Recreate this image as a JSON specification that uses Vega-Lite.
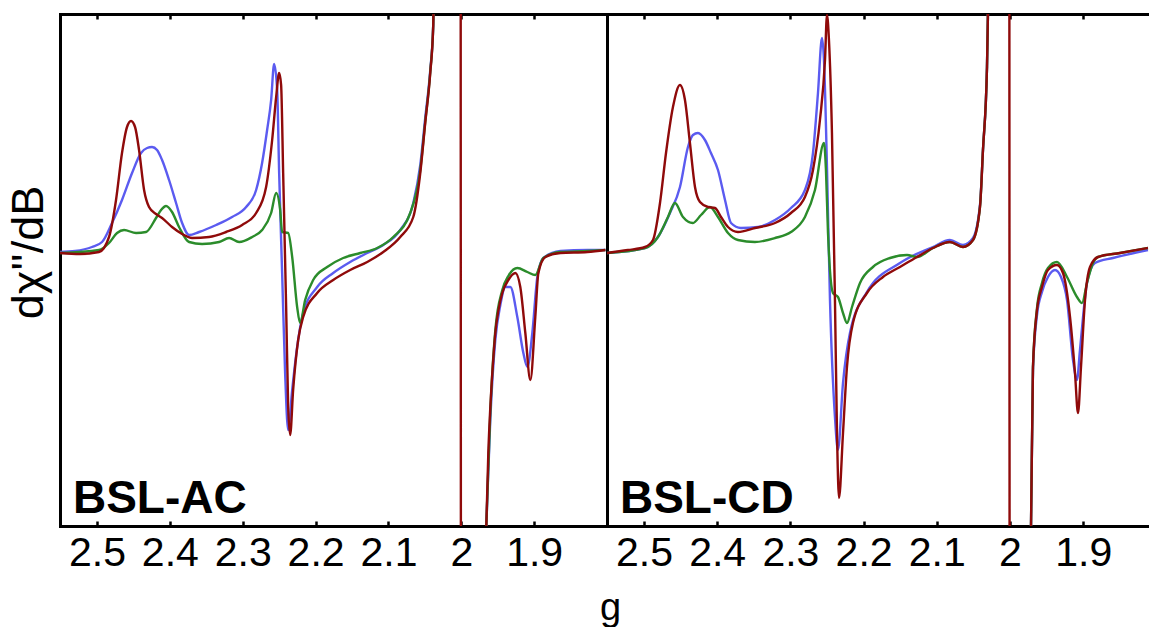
{
  "$schema": "https://vega.github.io/schema/vega-lite/v6.json",
  "background": "white",
  "padding": {"left": 6, "top": 12, "right": 0, "bottom": 0},
  "bounds": "flush",
  "spacing": 0,
  "config": {
    "view": {"stroke": null},
    "font": "Liberation Sans",
    "axis": {
      "domainColor": "black", "domainWidth": 3, "domainCap": "square",
      "tickColor": "black", "tickWidth": 2.5, "tickSize": -5,
      "labelFont": "Liberation Sans", "labelFontSize": 41, "labelColor": "black",
      "grid": false, "titleFont": "Liberation Sans", "titleFontWeight": "normal", "titleColor": "black"
    }
  },
  "datasets": {
    "curves": [
      {"panel":"AC","series":"blue","g":2.5508,"v":0.01},{"panel":"AC","series":"blue","g":2.5300,"v":0.02},{"panel":"AC","series":"blue","g":2.5069,"v":0.06},{"panel":"AC","series":"blue","g":2.4931,"v":0.11},{"panel":"AC","series":"blue","g":2.4794,"v":0.30},{"panel":"AC","series":"blue","g":2.4657,"v":0.53},{"panel":"AC","series":"blue","g":2.4519,"v":0.80},{"panel":"AC","series":"blue","g":2.4396,"v":1.00},{"panel":"AC","series":"blue","g":2.4313,"v":1.05},{"panel":"AC","series":"blue","g":2.4245,"v":1.06},{"panel":"AC","series":"blue","g":2.4176,"v":1.03},{"panel":"AC","series":"blue","g":2.4107,"v":0.93},{"panel":"AC","series":"blue","g":2.4011,"v":0.73},{"panel":"AC","series":"blue","g":2.3915,"v":0.50},{"panel":"AC","series":"blue","g":2.3832,"v":0.30},{"panel":"AC","series":"blue","g":2.3736,"v":0.18},{"panel":"AC","series":"blue","g":2.3599,"v":0.21},{"panel":"AC","series":"blue","g":2.3365,"v":0.28},{"panel":"AC","series":"blue","g":2.3146,"v":0.36},{"panel":"AC","series":"blue","g":2.2953,"v":0.46},{"panel":"AC","series":"blue","g":2.2816,"v":0.63},{"panel":"AC","series":"blue","g":2.2734,"v":0.90},{"panel":"AC","series":"blue","g":2.2665,"v":1.23},{"panel":"AC","series":"blue","g":2.2610,"v":1.53},{"panel":"AC","series":"blue","g":2.2569,"v":1.89},{"panel":"AC","series":"blue","g":2.2527,"v":1.63},{"panel":"AC","series":"blue","g":2.2500,"v":0.80},{"panel":"AC","series":"blue","g":2.2459,"v":-0.20},{"panel":"AC","series":"blue","g":2.2418,"v":-1.20},{"panel":"AC","series":"blue","g":2.2376,"v":-1.77},{"panel":"AC","series":"blue","g":2.2321,"v":-1.37},{"panel":"AC","series":"blue","g":2.2253,"v":-0.94},{"panel":"AC","series":"blue","g":2.2170,"v":-0.60},{"panel":"AC","series":"blue","g":2.1978,"v":-0.34},{"panel":"AC","series":"blue","g":2.1758,"v":-0.20},{"panel":"AC","series":"blue","g":2.1525,"v":-0.09},{"panel":"AC","series":"blue","g":2.1291,"v":0.00},{"panel":"AC","series":"blue","g":2.1071,"v":0.08},{"panel":"AC","series":"blue","g":2.0838,"v":0.23},{"panel":"AC","series":"blue","g":2.0659,"v":0.50},{"panel":"AC","series":"blue","g":2.0563,"v":0.88},{"panel":"AC","series":"blue","g":2.0495,"v":1.35},{"panel":"AC","series":"blue","g":2.0426,"v":1.83},{"panel":"AC","series":"blue","g":2.0385,"v":2.28},{"panel":"AC","series":"blue","g":2.0343,"v":4.0},{"panel":"AC","series":"blue","g":2.0200,"v":null},{"panel":"AC","series":"blue","g":1.9698,"v":-3.47},{"panel":"AC","series":"blue","g":1.9657,"v":-2.74},{"panel":"AC","series":"blue","g":1.9602,"v":-1.67},{"panel":"AC","series":"blue","g":1.9533,"v":-0.87},{"panel":"AC","series":"blue","g":1.9464,"v":-0.52},{"panel":"AC","series":"blue","g":1.9396,"v":-0.34},{"panel":"AC","series":"blue","g":1.9327,"v":-0.34},{"panel":"AC","series":"blue","g":1.9231,"v":-0.64},{"panel":"AC","series":"blue","g":1.9148,"v":-1.00},{"panel":"AC","series":"blue","g":1.9093,"v":-1.14},{"panel":"AC","series":"blue","g":1.9025,"v":-0.80},{"panel":"AC","series":"blue","g":1.8956,"v":-0.24},{"panel":"AC","series":"blue","g":1.8874,"v":-0.05},{"panel":"AC","series":"blue","g":1.8640,"v":0.02},{"panel":"AC","series":"blue","g":1.8269,"v":0.03},{"panel":"AC","series":"blue","g":1.8022,"v":0.03},
      {"panel":"AC","series":"green","g":2.5508,"v":0.00},{"panel":"AC","series":"green","g":2.4973,"v":0.03},{"panel":"AC","series":"green","g":2.4835,"v":0.10},{"panel":"AC","series":"green","g":2.4725,"v":0.20},{"panel":"AC","series":"green","g":2.4629,"v":0.23},{"panel":"AC","series":"green","g":2.4464,"v":0.20},{"panel":"AC","series":"green","g":2.4327,"v":0.21},{"panel":"AC","series":"green","g":2.4190,"v":0.35},{"panel":"AC","series":"green","g":2.4121,"v":0.43},{"panel":"AC","series":"green","g":2.4052,"v":0.47},{"panel":"AC","series":"green","g":2.3970,"v":0.41},{"panel":"AC","series":"green","g":2.3874,"v":0.26},{"panel":"AC","series":"green","g":2.3736,"v":0.11},{"panel":"AC","series":"green","g":2.3558,"v":0.09},{"panel":"AC","series":"green","g":2.3324,"v":0.11},{"panel":"AC","series":"green","g":2.3187,"v":0.15},{"panel":"AC","series":"green","g":2.3049,"v":0.11},{"panel":"AC","series":"green","g":2.2871,"v":0.16},{"panel":"AC","series":"green","g":2.2734,"v":0.23},{"panel":"AC","series":"green","g":2.2610,"v":0.40},{"panel":"AC","series":"green","g":2.2541,"v":0.60},{"panel":"AC","series":"green","g":2.2486,"v":0.43},{"panel":"AC","series":"green","g":2.2459,"v":0.21},{"panel":"AC","series":"green","g":2.2376,"v":0.20},{"panel":"AC","series":"green","g":2.2321,"v":-0.04},{"panel":"AC","series":"green","g":2.2253,"v":-0.54},{"panel":"AC","series":"green","g":2.2212,"v":-0.70},{"panel":"AC","series":"green","g":2.2143,"v":-0.47},{"panel":"AC","series":"green","g":2.2033,"v":-0.27},{"panel":"AC","series":"green","g":2.1841,"v":-0.14},{"panel":"AC","series":"green","g":2.1621,"v":-0.05},{"panel":"AC","series":"green","g":2.1387,"v":0.00},{"panel":"AC","series":"green","g":2.1154,"v":0.05},{"panel":"AC","series":"green","g":2.0934,"v":0.16},{"panel":"AC","series":"green","g":2.0701,"v":0.40},{"panel":"AC","series":"green","g":2.0563,"v":0.83},{"panel":"AC","series":"green","g":2.0495,"v":1.31},{"panel":"AC","series":"green","g":2.0426,"v":1.81},{"panel":"AC","series":"green","g":2.0385,"v":2.28},{"panel":"AC","series":"green","g":2.0343,"v":4.0},{"panel":"AC","series":"green","g":2.0200,"v":null},{"panel":"AC","series":"green","g":1.9698,"v":-3.47},{"panel":"AC","series":"green","g":1.9657,"v":-2.74},{"panel":"AC","series":"green","g":1.9602,"v":-1.60},{"panel":"AC","series":"green","g":1.9533,"v":-0.77},{"panel":"AC","series":"green","g":1.9437,"v":-0.37},{"panel":"AC","series":"green","g":1.9354,"v":-0.23},{"panel":"AC","series":"green","g":1.9231,"v":-0.15},{"panel":"AC","series":"green","g":1.9093,"v":-0.19},{"panel":"AC","series":"green","g":1.8984,"v":-0.22},{"panel":"AC","series":"green","g":1.8874,"v":-0.05},{"panel":"AC","series":"green","g":1.8640,"v":0.01},{"panel":"AC","series":"green","g":1.8269,"v":0.02},{"panel":"AC","series":"green","g":1.8022,"v":0.03},
      {"panel":"AC","series":"red","g":2.5508,"v":0.00},{"panel":"AC","series":"red","g":2.5234,"v":-0.01},{"panel":"AC","series":"red","g":2.4973,"v":0.01},{"panel":"AC","series":"red","g":2.4835,"v":0.16},{"panel":"AC","series":"red","g":2.4739,"v":0.53},{"panel":"AC","series":"red","g":2.4657,"v":1.00},{"panel":"AC","series":"red","g":2.4588,"v":1.26},{"panel":"AC","series":"red","g":2.4533,"v":1.32},{"panel":"AC","series":"red","g":2.4478,"v":1.26},{"panel":"AC","series":"red","g":2.4423,"v":1.03},{"panel":"AC","series":"red","g":2.4354,"v":0.63},{"panel":"AC","series":"red","g":2.4286,"v":0.46},{"panel":"AC","series":"red","g":2.4190,"v":0.39},{"panel":"AC","series":"red","g":2.4107,"v":0.35},{"panel":"AC","series":"red","g":2.3970,"v":0.26},{"panel":"AC","series":"red","g":2.3832,"v":0.19},{"panel":"AC","series":"red","g":2.3695,"v":0.15},{"panel":"AC","series":"red","g":2.3462,"v":0.16},{"panel":"AC","series":"red","g":2.3228,"v":0.21},{"panel":"AC","series":"red","g":2.3008,"v":0.28},{"panel":"AC","series":"red","g":2.2816,"v":0.40},{"panel":"AC","series":"red","g":2.2679,"v":0.66},{"panel":"AC","series":"red","g":2.2596,"v":1.13},{"panel":"AC","series":"red","g":2.2541,"v":1.56},{"panel":"AC","series":"red","g":2.2500,"v":1.80},{"panel":"AC","series":"red","g":2.2473,"v":1.68},{"panel":"AC","series":"red","g":2.2445,"v":0.80},{"panel":"AC","series":"red","g":2.2404,"v":-0.54},{"panel":"AC","series":"red","g":2.2376,"v":-1.54},{"panel":"AC","series":"red","g":2.2349,"v":-1.82},{"panel":"AC","series":"red","g":2.2308,"v":-1.37},{"panel":"AC","series":"red","g":2.2239,"v":-0.87},{"panel":"AC","series":"red","g":2.2170,"v":-0.64},{"panel":"AC","series":"red","g":2.1978,"v":-0.40},{"panel":"AC","series":"red","g":2.1758,"v":-0.27},{"panel":"AC","series":"red","g":2.1525,"v":-0.17},{"panel":"AC","series":"red","g":2.1291,"v":-0.09},{"panel":"AC","series":"red","g":2.1071,"v":0.01},{"panel":"AC","series":"red","g":2.0838,"v":0.16},{"panel":"AC","series":"red","g":2.0659,"v":0.36},{"panel":"AC","series":"red","g":2.0563,"v":0.80},{"panel":"AC","series":"red","g":2.0495,"v":1.30},{"panel":"AC","series":"red","g":2.0426,"v":1.80},{"panel":"AC","series":"red","g":2.0385,"v":2.28},{"panel":"AC","series":"red","g":2.0343,"v":4.0},{"panel":"AC","series":"red","g":2.0014,"v":10},{"panel":"AC","series":"red","g":2.0000,"v":-10},{"panel":"AC","series":"red","g":1.9698,"v":-3.47},{"panel":"AC","series":"red","g":1.9657,"v":-2.74},{"panel":"AC","series":"red","g":1.9629,"v":-2.0},{"panel":"AC","series":"red","g":1.9602,"v":-1.55},{"panel":"AC","series":"red","g":1.9560,"v":-1.05},{"panel":"AC","series":"red","g":1.9533,"v":-0.80},{"panel":"AC","series":"red","g":1.9492,"v":-0.58},{"panel":"AC","series":"red","g":1.9437,"v":-0.40},{"panel":"AC","series":"red","g":1.9354,"v":-0.27},{"panel":"AC","series":"red","g":1.9258,"v":-0.20},{"panel":"AC","series":"red","g":1.9190,"v":-0.34},{"panel":"AC","series":"red","g":1.9121,"v":-0.80},{"panel":"AC","series":"red","g":1.9052,"v":-1.27},{"panel":"AC","series":"red","g":1.8984,"v":-0.64},{"panel":"AC","series":"red","g":1.8942,"v":-0.20},{"panel":"AC","series":"red","g":1.8846,"v":-0.04},{"panel":"AC","series":"red","g":1.8640,"v":0.00},{"panel":"AC","series":"red","g":1.8269,"v":0.01},{"panel":"AC","series":"red","g":1.8022,"v":0.03},
      {"panel":"CD","series":"blue","g":2.5505,"v":0.00},{"panel":"CD","series":"blue","g":2.4986,"v":0.05},{"panel":"CD","series":"blue","g":2.4809,"v":0.16},{"panel":"CD","series":"blue","g":2.4645,"v":0.40},{"panel":"CD","series":"blue","g":2.4508,"v":0.66},{"panel":"CD","series":"blue","g":2.4399,"v":1.06},{"panel":"CD","series":"blue","g":2.4331,"v":1.18},{"panel":"CD","series":"blue","g":2.4262,"v":1.20},{"panel":"CD","series":"blue","g":2.4167,"v":1.13},{"panel":"CD","series":"blue","g":2.4085,"v":1.00},{"panel":"CD","series":"blue","g":2.3989,"v":0.83},{"panel":"CD","series":"blue","g":2.3893,"v":0.53},{"panel":"CD","series":"blue","g":2.3811,"v":0.30},{"panel":"CD","series":"blue","g":2.3675,"v":0.25},{"panel":"CD","series":"blue","g":2.3443,"v":0.26},{"panel":"CD","series":"blue","g":2.3210,"v":0.33},{"panel":"CD","series":"blue","g":2.2992,"v":0.45},{"panel":"CD","series":"blue","g":2.2801,"v":0.63},{"panel":"CD","series":"blue","g":2.2691,"v":1.00},{"panel":"CD","series":"blue","g":2.2623,"v":1.60},{"panel":"CD","series":"blue","g":2.2568,"v":2.15},{"panel":"CD","series":"blue","g":2.2541,"v":1.93},{"panel":"CD","series":"blue","g":2.2500,"v":0.86},{"panel":"CD","series":"blue","g":2.2459,"v":-0.47},{"panel":"CD","series":"blue","g":2.2391,"v":-1.64},{"panel":"CD","series":"blue","g":2.2350,"v":-1.97},{"panel":"CD","series":"blue","g":2.2281,"v":-1.30},{"panel":"CD","series":"blue","g":2.2186,"v":-0.80},{"panel":"CD","series":"blue","g":2.1954,"v":-0.39},{"panel":"CD","series":"blue","g":2.1503,"v":-0.10},{"panel":"CD","series":"blue","g":2.1052,"v":0.06},{"panel":"CD","series":"blue","g":2.0820,"v":0.13},{"panel":"CD","series":"blue","g":2.0642,"v":0.08},{"panel":"CD","series":"blue","g":2.0505,"v":0.15},{"panel":"CD","series":"blue","g":2.0410,"v":0.48},{"panel":"CD","series":"blue","g":2.0369,"v":1.03},{"panel":"CD","series":"blue","g":2.0314,"v":1.86},{"panel":"CD","series":"blue","g":2.0301,"v":2.40},{"panel":"CD","series":"blue","g":2.0273,"v":4.0},{"panel":"CD","series":"blue","g":2.0150,"v":null},{"panel":"CD","series":"blue","g":1.9754,"v":-3.47},{"panel":"CD","series":"blue","g":1.9713,"v":-2.74},{"panel":"CD","series":"blue","g":1.9686,"v":-1.17},{"panel":"CD","series":"blue","g":1.9631,"v":-0.62},{"panel":"CD","series":"blue","g":1.9563,"v":-0.39},{"panel":"CD","series":"blue","g":1.9481,"v":-0.24},{"panel":"CD","series":"blue","g":1.9385,"v":-0.17},{"panel":"CD","series":"blue","g":1.9303,"v":-0.24},{"panel":"CD","series":"blue","g":1.9221,"v":-0.47},{"panel":"CD","series":"blue","g":1.9139,"v":-1.07},{"panel":"CD","series":"blue","g":1.9085,"v":-1.27},{"panel":"CD","series":"blue","g":1.9044,"v":-0.97},{"panel":"CD","series":"blue","g":1.8948,"v":-0.30},{"panel":"CD","series":"blue","g":1.8839,"v":-0.10},{"panel":"CD","series":"blue","g":1.8593,"v":-0.05},{"panel":"CD","series":"blue","g":1.8115,"v":0.03},
      {"panel":"CD","series":"green","g":2.5505,"v":0.00},{"panel":"CD","series":"green","g":2.4986,"v":0.05},{"panel":"CD","series":"green","g":2.4809,"v":0.16},{"panel":"CD","series":"green","g":2.4672,"v":0.36},{"panel":"CD","series":"green","g":2.4577,"v":0.50},{"panel":"CD","series":"green","g":2.4467,"v":0.36},{"panel":"CD","series":"green","g":2.4331,"v":0.30},{"panel":"CD","series":"green","g":2.4221,"v":0.38},{"panel":"CD","series":"green","g":2.4098,"v":0.46},{"panel":"CD","series":"green","g":2.3989,"v":0.36},{"panel":"CD","series":"green","g":2.3852,"v":0.20},{"panel":"CD","series":"green","g":2.3716,"v":0.13},{"panel":"CD","series":"green","g":2.3484,"v":0.11},{"panel":"CD","series":"green","g":2.3210,"v":0.15},{"panel":"CD","series":"green","g":2.2992,"v":0.21},{"panel":"CD","series":"green","g":2.2801,"v":0.36},{"panel":"CD","series":"green","g":2.2664,"v":0.63},{"panel":"CD","series":"green","g":2.2541,"v":1.10},{"panel":"CD","series":"green","g":2.2514,"v":0.83},{"panel":"CD","series":"green","g":2.2486,"v":0.20},{"panel":"CD","series":"green","g":2.2418,"v":-0.40},{"panel":"CD","series":"green","g":2.2350,"v":-0.44},{"panel":"CD","series":"green","g":2.2281,"v":-0.60},{"panel":"CD","series":"green","g":2.2227,"v":-0.70},{"panel":"CD","series":"green","g":2.2158,"v":-0.54},{"panel":"CD","series":"green","g":2.2049,"v":-0.30},{"panel":"CD","series":"green","g":2.1872,"v":-0.14},{"panel":"CD","series":"green","g":2.1639,"v":-0.05},{"panel":"CD","series":"green","g":2.1407,"v":-0.02},{"panel":"CD","series":"green","g":2.1270,"v":-0.04},{"panel":"CD","series":"green","g":2.1052,"v":0.05},{"panel":"CD","series":"green","g":2.0820,"v":0.11},{"panel":"CD","series":"green","g":2.0642,"v":0.06},{"panel":"CD","series":"green","g":2.0505,"v":0.13},{"panel":"CD","series":"green","g":2.0410,"v":0.46},{"panel":"CD","series":"green","g":2.0369,"v":1.03},{"panel":"CD","series":"green","g":2.0314,"v":1.86},{"panel":"CD","series":"green","g":2.0301,"v":2.40},{"panel":"CD","series":"green","g":2.0273,"v":4.0},{"panel":"CD","series":"green","g":2.0150,"v":null},{"panel":"CD","series":"green","g":1.9754,"v":-3.47},{"panel":"CD","series":"green","g":1.9713,"v":-2.74},{"panel":"CD","series":"green","g":1.9686,"v":-1.14},{"panel":"CD","series":"green","g":1.9631,"v":-0.55},{"panel":"CD","series":"green","g":1.9563,"v":-0.30},{"panel":"CD","series":"green","g":1.9481,"v":-0.15},{"panel":"CD","series":"green","g":1.9358,"v":-0.09},{"panel":"CD","series":"green","g":1.9221,"v":-0.24},{"panel":"CD","series":"green","g":1.9085,"v":-0.44},{"panel":"CD","series":"green","g":1.9016,"v":-0.50},{"panel":"CD","series":"green","g":1.8948,"v":-0.30},{"panel":"CD","series":"green","g":1.8866,"v":-0.10},{"panel":"CD","series":"green","g":1.8798,"v":-0.04},{"panel":"CD","series":"green","g":1.8497,"v":0.00},{"panel":"CD","series":"green","g":1.8115,"v":0.05},
      {"panel":"CD","series":"red","g":2.5505,"v":0.00},{"panel":"CD","series":"red","g":2.5219,"v":0.03},{"panel":"CD","series":"red","g":2.4986,"v":0.06},{"panel":"CD","series":"red","g":2.4877,"v":0.13},{"panel":"CD","series":"red","g":2.4781,"v":0.50},{"panel":"CD","series":"red","g":2.4699,"v":1.00},{"panel":"CD","series":"red","g":2.4604,"v":1.46},{"panel":"CD","series":"red","g":2.4508,"v":1.68},{"panel":"CD","series":"red","g":2.4440,"v":1.53},{"panel":"CD","series":"red","g":2.4372,"v":1.10},{"panel":"CD","series":"red","g":2.4303,"v":0.66},{"panel":"CD","series":"red","g":2.4235,"v":0.51},{"panel":"CD","series":"red","g":2.4126,"v":0.46},{"panel":"CD","series":"red","g":2.4030,"v":0.45},{"panel":"CD","series":"red","g":2.3948,"v":0.36},{"panel":"CD","series":"red","g":2.3852,"v":0.26},{"panel":"CD","series":"red","g":2.3716,"v":0.21},{"panel":"CD","series":"red","g":2.3484,"v":0.25},{"panel":"CD","series":"red","g":2.3210,"v":0.30},{"panel":"CD","series":"red","g":2.2992,"v":0.40},{"panel":"CD","series":"red","g":2.2801,"v":0.56},{"panel":"CD","series":"red","g":2.2691,"v":0.83},{"panel":"CD","series":"red","g":2.2596,"v":1.33},{"panel":"CD","series":"red","g":2.2527,"v":1.93},{"panel":"CD","series":"red","g":2.2500,"v":2.38},{"panel":"CD","series":"red","g":2.2473,"v":2.13},{"panel":"CD","series":"red","g":2.2432,"v":1.20},{"panel":"CD","series":"red","g":2.2391,"v":-0.47},{"panel":"CD","series":"red","g":2.2363,"v":-1.80},{"panel":"CD","series":"red","g":2.2336,"v":-2.45},{"panel":"CD","series":"red","g":2.2281,"v":-1.80},{"panel":"CD","series":"red","g":2.2227,"v":-1.14},{"panel":"CD","series":"red","g":2.2145,"v":-0.70},{"panel":"CD","series":"red","g":2.1954,"v":-0.40},{"panel":"CD","series":"red","g":2.1735,"v":-0.24},{"panel":"CD","series":"red","g":2.1503,"v":-0.14},{"panel":"CD","series":"red","g":2.1270,"v":-0.04},{"panel":"CD","series":"red","g":2.1052,"v":0.05},{"panel":"CD","series":"red","g":2.0820,"v":0.11},{"panel":"CD","series":"red","g":2.0642,"v":0.06},{"panel":"CD","series":"red","g":2.0505,"v":0.13},{"panel":"CD","series":"red","g":2.0410,"v":0.46},{"panel":"CD","series":"red","g":2.0369,"v":1.03},{"panel":"CD","series":"red","g":2.0314,"v":1.86},{"panel":"CD","series":"red","g":2.0301,"v":2.40},{"panel":"CD","series":"red","g":2.0273,"v":4.0},{"panel":"CD","series":"red","g":2.0014,"v":10},{"panel":"CD","series":"red","g":2.0000,"v":-10},{"panel":"CD","series":"red","g":1.9754,"v":-3.47},{"panel":"CD","series":"red","g":1.9713,"v":-2.74},{"panel":"CD","series":"red","g":1.9686,"v":-1.14},{"panel":"CD","series":"red","g":1.9631,"v":-0.57},{"panel":"CD","series":"red","g":1.9563,"v":-0.34},{"panel":"CD","series":"red","g":1.9481,"v":-0.17},{"panel":"CD","series":"red","g":1.9358,"v":-0.12},{"panel":"CD","series":"red","g":1.9276,"v":-0.20},{"panel":"CD","series":"red","g":1.9180,"v":-0.64},{"panel":"CD","series":"red","g":1.9112,"v":-1.20},{"panel":"CD","series":"red","g":1.9071,"v":-1.60},{"panel":"CD","series":"red","g":1.9030,"v":-1.14},{"panel":"CD","series":"red","g":1.8975,"v":-0.47},{"panel":"CD","series":"red","g":1.8907,"v":-0.14},{"panel":"CD","series":"red","g":1.8798,"v":-0.04},{"panel":"CD","series":"red","g":1.8497,"v":0.00},{"panel":"CD","series":"red","g":1.8115,"v":0.05}
    ]
  },
  "hconcat": [
    {
      "width": 547,
      "height": 512,
      "layer": [
        {
          "data": {"name": "curves"},
          "transform": [{"filter": "datum.panel === 'AC'"}],
          "mark": {"type": "line", "clip": true, "strokeWidth": 2.4, "interpolate": "monotone", "invalid": "break-paths-filter-domains"},
          "encoding": {
            "x": {"field": "g", "type": "quantitative",
                  "scale": {"domain": [2.5508, 1.8], "nice": false, "zero": false},
                  "axis": {"orient": "bottom", "values": [2.5, 2.4, 2.3, 2.2, 2.1, 2.0, 1.9], "format": "~g",
                           "labelFontSize": 41, "labelFont": "Liberation Sans", "labelPadding": 12, "tickSize": -5, "tickWidth": 2.5,
                           "title": "g", "titleFontSize": 38, "titleX": 550, "titleY": 93, "titleBaseline": "alphabetic", "titleAlign": "center"}},
            "y": {"field": "v", "type": "quantitative",
                  "scale": {"domain": [-2.73, 2.39], "nice": false, "zero": false},
                  "axis": {"ticks": false, "labels": false, "title": "dχ''/dB", "titleFontSize": 45, "titleX": -18, "titleY": 238,
                           "titleAngle": 270, "titleBaseline": "alphabetic", "titleAlign": "center"}},
            "color": {"field": "series", "type": "nominal",
                      "scale": {"domain": ["blue", "green", "red"], "range": ["#5b5bf0", "#2b8c2b", "#8f0a0a"]}, "legend": null}
          }
        },
        {
          "data": {"values": [{"label": "BSL-AC", "g": 2.533, "v": -2.6}]},
          "mark": {"type": "text", "align": "left", "baseline": "alphabetic", "fontSize": 46, "fontWeight": "bold", "font": "Liberation Sans", "color": "black"},
          "encoding": {
            "x": {"field": "g", "type": "quantitative", "scale": {"domain": [2.5508, 1.8], "nice": false, "zero": false},
                  "axis": {"orient": "top", "values": [2.5, 2.4, 2.3, 2.2, 2.1, 2.0, 1.9], "labels": false, "tickSize": -5, "tickWidth": 2.5, "title": null}},
            "y": {"field": "v", "type": "quantitative", "scale": {"domain": [-2.73, 2.39], "nice": false, "zero": false}, "axis": null},
            "text": {"field": "label"}
          }
        }
      ],
      "resolve": {"axis": {"x": "independent", "y": "independent"}}
    },
    {
      "width": 542,
      "height": 512,
      "layer": [
        {
          "data": {"name": "curves"},
          "transform": [{"filter": "datum.panel === 'CD'"}],
          "mark": {"type": "line", "clip": true, "strokeWidth": 2.4, "interpolate": "monotone", "invalid": "break-paths-filter-domains"},
          "encoding": {
            "x": {"field": "g", "type": "quantitative",
                  "scale": {"domain": [2.5505, 1.8101], "nice": false, "zero": false},
                  "axis": {"orient": "bottom", "values": [2.5, 2.4, 2.3, 2.2, 2.1, 2.0, 1.9], "format": "~g",
                           "labelFontSize": 41, "labelFont": "Liberation Sans", "labelPadding": 12, "tickSize": -5, "tickWidth": 2.5, "title": null}},
            "y": {"field": "v", "type": "quantitative",
                  "scale": {"domain": [-2.73, 2.39], "nice": false, "zero": false},
                  "axis": {"ticks": false, "labels": false, "title": null, "minExtent": 0, "maxExtent": 0}},
            "color": {"field": "series", "type": "nominal",
                      "scale": {"domain": ["blue", "green", "red"], "range": ["#5b5bf0", "#2b8c2b", "#8f0a0a"]}, "legend": null}
          }
        },
        {
          "data": {"values": [{"label": "BSL-CD", "g": 2.5328, "v": -2.6}]},
          "mark": {"type": "text", "align": "left", "baseline": "alphabetic", "fontSize": 46, "fontWeight": "bold", "font": "Liberation Sans", "color": "black"},
          "encoding": {
            "x": {"field": "g", "type": "quantitative", "scale": {"domain": [2.5505, 1.8101], "nice": false, "zero": false},
                  "axis": {"orient": "top", "values": [2.5, 2.4, 2.3, 2.2, 2.1, 2.0, 1.9], "labels": false, "tickSize": -5, "tickWidth": 2.5, "title": null}},
            "y": {"field": "v", "type": "quantitative", "scale": {"domain": [-2.73, 2.39], "nice": false, "zero": false}, "axis": null},
            "text": {"field": "label"}
          }
        }
      ],
      "resolve": {"axis": {"x": "independent", "y": "independent"}}
    }
  ]
}
